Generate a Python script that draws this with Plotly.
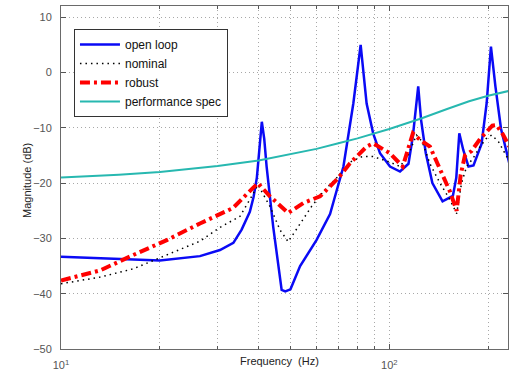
import plotly.graph_objects as go

# ---- data ----
open_f = [10, 13, 16.6, 20, 26.5, 30.5, 33.5, 35.5, 37.6, 38.6, 39.5, 40.2, 40.9, 41.6, 42.3, 44.3, 47.0, 48.2,
          50, 53.5, 60, 66, 70.3, 72.5, 77.7, 81.8, 85.3, 89.3, 93.7, 100.5, 107.8, 114.4, 118, 122.5, 125,
          129.2, 135.3, 145.3, 156.2, 160, 163.4, 168, 174.3, 180.5, 191, 198, 204, 210.5, 219, 232]
open_db = [-33.3, -33.6, -33.9, -34.0, -33.2, -32.1, -30.8, -28.4, -25.2, -22.5, -19, -14, -8.9, -12, -17, -27.9, -39.3, -39.6,
           -39.2, -35, -30.3, -25.6, -19.7, -17, -5.6, 5.0, -5.6, -11, -14.6, -17, -17.9, -16.5, -11.5, -2.5, -8.6,
           -14.6, -20, -23.3, -22.3, -19, -11, -14, -17, -16.8, -12.9, -5.5, 4.7, -2.5, -10.2, -16.4]

nominal_f = [10, 13.15, 16.6, 20, 26.5, 30.5, 35.1, 38.1, 39.8, 43.3, 46.5, 49.2, 53.5, 58, 63, 69.8, 75.9, 82.7,
             89.2, 100.5, 107.8, 114, 121, 126, 133, 142.7, 153, 160.4, 166, 172, 180, 189, 197, 205, 215, 232]
nominal_db = [-38.2, -37, -35.5, -33.5, -30.5, -28, -26, -22.4, -20.3, -24.2, -28.5, -30.6, -27.3, -24.2, -21.5, -18.8, -16.2, -15.2,
              -15.2, -16.2, -17, -15, -11.3, -12.5, -16.5, -20, -23, -25.5, -20, -17, -15.5, -13.4, -12, -11.3, -12.5, -16]

robust_f = [10, 13.15, 16.6, 21, 26.5, 33.4, 38.4, 39.8, 43.3, 49.2, 54.7, 61.5, 69.9, 75.9, 85.3, 89.3, 100.5, 109.9,
            118, 124.4, 133, 145.3, 153, 160.4, 165, 170, 178, 189, 197, 206, 212, 222, 232]
robust_db = [-37.6, -35.8, -33, -30.3, -27.3, -24.5, -20.9, -20, -22.4, -25.4, -23.6, -22.4, -19.1, -16.4, -13.4, -12.8, -14.6, -17,
             -11, -12.2, -13.4, -18.8, -21.5, -25, -18.5, -15, -14.2, -12, -10.8, -9.6, -9.5, -11.2, -13.4]

spec_f = [10, 15, 20, 25, 30, 40, 50, 60, 70, 80, 100, 125, 150, 175, 200, 232]
spec_db = [-19.0, -18.5, -18.0, -17.4, -16.9, -15.9, -14.8, -13.8, -12.8, -11.9, -10.2, -8.3, -6.6, -5.2, -4.2, -3.3]

x_tickvals = [10, 100]
x_ticktext = ["10<sup>1</sup>", "10<sup>2</sup>"]
x_minor = [20, 30, 40, 50, 60, 70, 80, 90, 200]
y_tickvals = [10, 0, -10, -20, -30, -40, -50]

FONT = "Liberation Sans, Arial, sans-serif"

fig = go.Figure()
fig.add_trace(go.Scatter(x=open_f, y=open_db, mode="lines", name="open loop",
                         line=dict(color="#0A0AF5", width=2.5)))
fig.add_trace(go.Scatter(x=nominal_f, y=nominal_db, mode="lines", name="nominal",
                         line=dict(color="#000000", width=1.5, dash="1.5px,4px")))
fig.add_trace(go.Scatter(x=robust_f, y=robust_db, mode="lines", name="robust",
                         line=dict(color="#FF0000", width=4, dash="10px,4px,3px,4px")))
fig.add_trace(go.Scatter(x=spec_f, y=spec_db, mode="lines", name="performance spec",
                         line=dict(color="#27B8B0", width=2)))

fig.update_layout(
    width=509, height=372,
    margin=dict(l=61, r=1, t=6, b=23),
    paper_bgcolor="white", plot_bgcolor="white",
    font=dict(family=FONT, size=11, color="#222222"),
    showlegend=True,
    legend=dict(x=0.029, y=0.933, xanchor="left", yanchor="top",
                bgcolor="white", bordercolor="#333333", borderwidth=1,
                font=dict(family=FONT, size=12, color="#111111"),
                tracegroupgap=0, itemwidth=40),
    xaxis=dict(type="log", range=[1, 2.3616],
               tickmode="array", tickvals=x_tickvals, ticktext=x_ticktext,
               ticks="inside", ticklen=5, tickcolor="#555555",
               showline=True, linecolor="#6a6a6a", linewidth=1, mirror="allticks",
               showgrid=True, gridcolor="#a8a8a8", gridwidth=1, griddash="1px,3px",
               zeroline=False, tickfont=dict(color="#555555", size=11),
               ticklabelstandoff=6,
               minor=dict(tickmode="array", tickvals=x_minor, ticks="inside", ticklen=3,
                          tickcolor="#555555", showgrid=True, gridcolor="#a8a8a8",
                          gridwidth=1, griddash="1px,3px")),
    yaxis=dict(range=[-50, 12.04], tickmode="array", tickvals=y_tickvals,
               ticks="inside", ticklen=5, tickcolor="#555555",
               showline=True, linecolor="#6a6a6a", linewidth=1, mirror="allticks",
               showgrid=True, gridcolor="#a8a8a8", gridwidth=1, griddash="1px,3px",
               zeroline=False, tickfont=dict(color="#555555", size=11),
               ticklabelstandoff=6),
    annotations=[
        dict(text="Frequency  (Hz)", xref="paper", yref="paper", x=0.488, y=0,
             xanchor="center", yanchor="middle", yshift=-12, showarrow=False,
             font=dict(family=FONT, size=11, color="#222222")),
        dict(text="Magnitude (dB)", xref="paper", yref="paper", x=0, y=0.49,
             xanchor="center", yanchor="middle", xshift=-34, textangle=-90, showarrow=False,
             font=dict(family=FONT, size=11, color="#222222")),
    ],
)

fig.write_html("out.html",
               config={"displayModeBar": False},
               post_script="document.body.style.margin='0';document.body.style.padding='0';document.body.style.overflow='hidden';")
